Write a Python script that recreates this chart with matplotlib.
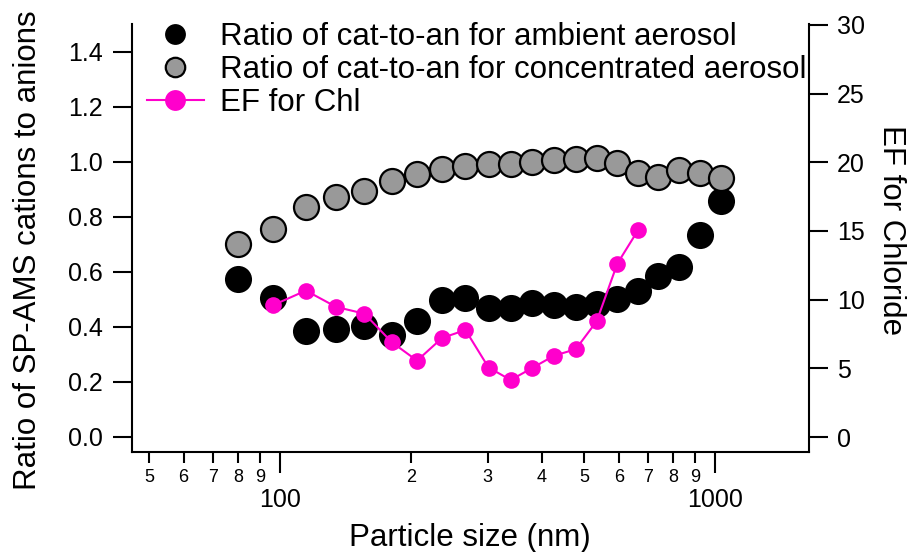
import numpy as np
import matplotlib
matplotlib.use("Agg")
import matplotlib.pyplot as plt
from matplotlib.ticker import FixedLocator, LogLocator, FuncFormatter
from matplotlib.lines import Line2D

plt.rcParams['font.family'] = ['Liberation Sans', 'DejaVu Sans']

# particle size bins (nm)
size_nm = [80.0, 96.5, 114.6, 134.5, 156.2, 180.6, 206.4, 235.6, 266.6, 301.3,
           338.8, 379.8, 426.1, 477.9, 534.0, 595.5, 664.4, 739.7, 825.1, 922.3, 1029.0]

ratio_ambient = [0.574, 0.504, 0.385, 0.391, 0.404, 0.370, 0.422, 0.498, 0.504, 0.468,
                 0.470, 0.488, 0.479, 0.473, 0.483, 0.500, 0.529, 0.585, 0.617, 0.733, 0.856]

ratio_conc = [0.702, 0.755, 0.835, 0.871, 0.894, 0.928, 0.956, 0.973, 0.985, 0.991,
              0.993, 1.000, 1.007, 1.010, 1.013, 0.995, 0.960, 0.946, 0.970, 0.960, 0.940]

# EF for chloride (sizes 2..17 of the bins above)
ef_size = size_nm[1:17]
ef_chl = [9.61, 10.66, 9.47, 8.98, 6.90, 5.56, 7.21, 7.79, 5.06, 4.15,
          5.03, 5.92, 6.39, 8.43, 12.62, 15.05]

magenta = '#FF00CC'
big = 22.5

fig = plt.figure(figsize=(9.11, 5.52), dpi=100)
ax = fig.add_axes([0.1446, 0.1812, 0.888 - 0.1446, 0.9565 - 0.1812])
ax2 = ax.twinx()

ax.plot(size_nm, ratio_ambient, 'o', color='black', ms=19.5, mew=0)
ax.plot(size_nm, ratio_conc, 'o', color='#999999', ms=18, mec='black', mew=1.6)
ax2.plot(ef_size, ef_chl, '-o', color=magenta, lw=1.5, ms=12, mew=0)

ax.set_xscale('log')
ax.set_xlim(45.6, 1642)
ax.set_ylim(-0.0545, 1.5)
ax2.set_ylim(-1.09, 30.07)

ax.xaxis.set_major_locator(FixedLocator([100, 1000]))
ax.xaxis.set_minor_locator(LogLocator(base=10, subs=np.arange(2, 10)))
ax.xaxis.set_major_formatter(FuncFormatter(lambda v, p: f"{int(round(v))}"))

def minor_label(v, p):
    d = int(round(v / 10 ** np.floor(np.log10(v) + 1e-9)))
    return str(d)

ax.xaxis.set_minor_formatter(FuncFormatter(minor_label))

yt = np.arange(0, 1.41, 0.2)
ax.set_yticks(yt)
ax.set_yticklabels([f"{v:.1f}" for v in yt])
ax2.set_yticks(np.arange(0, 31, 5))

for a in (ax, ax2):
    a.spines['top'].set_visible(False)
    for s in a.spines.values():
        s.set_linewidth(1.5)
ax.spines['right'].set_visible(False)
ax2.spines['left'].set_visible(False)
ax2.spines['bottom'].set_visible(False)

ax.tick_params(axis='y', which='major', length=13.5, width=1.5, labelsize=18, pad=7.5)
ax2.tick_params(axis='y', which='major', length=14, width=1.5, labelsize=18, pad=6)
ax.tick_params(axis='x', which='major', length=15, width=1.5, labelsize=18, pad=11)
ax.tick_params(axis='x', which='minor', length=8, width=1.5, labelsize=13, pad=4)

ax.set_xlabel('Particle size (nm)', fontsize=big, labelpad=8)
ax.set_ylabel('Ratio of SP-AMS cations to anions', fontsize=big, labelpad=18)
ax.yaxis.label.set_y(0.472)
ax2.set_ylabel('EF for Chloride', fontsize=big, rotation=270, labelpad=30)
ax2.yaxis.label.set_y(0.5187)

handles = [
    Line2D([], [], marker='o', ls='none', color='black', ms=15, mew=0),
    Line2D([], [], marker='o', ls='none', color='#999999', ms=14, mec='black', mew=1.6),
    Line2D([], [], marker='o', ls='-', color=magenta, lw=1.5, ms=15, mew=0),
]
labels = ['Ratio of cat-to-an for ambient aerosol',
          'Ratio of cat-to-an for concentrated aerosol',
          'EF for Chl']
ax2.legend(handles, labels, loc='upper left', bbox_to_anchor=(0.0226, 1.005),
           frameon=False, fontsize=big, handlelength=1.82, handletextpad=0.5,
           labelspacing=0.1, borderaxespad=0, borderpad=0)

fig.savefig('out.png', dpi=100)
